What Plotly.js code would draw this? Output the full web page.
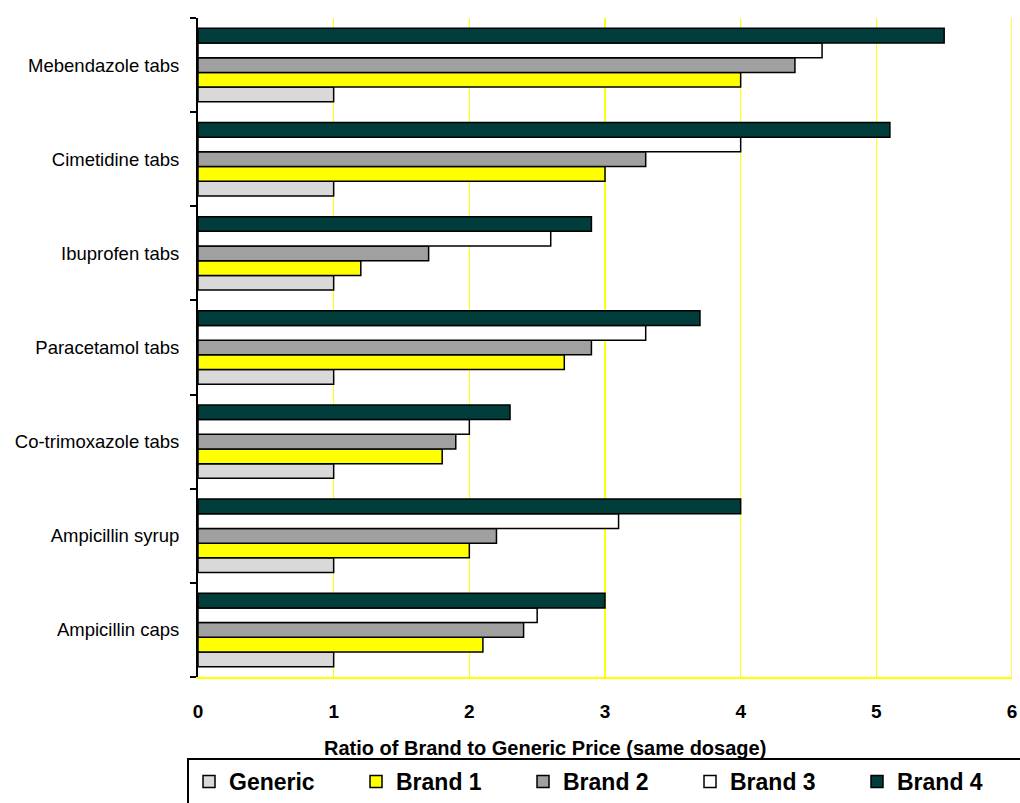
<!DOCTYPE html>
<html>
<head>
<meta charset="utf-8">
<script src="https://cdn.plot.ly/plotly-3.0.1.min.js"></script>
<style>html,body{margin:0;padding:0;background:#fff;}#chart{width:1020px;height:803px;}</style>
</head>
<body>
<div id="chart"></div>
<script>
// Categories listed bottom to top
const categories = ["Ampicillin caps", "Ampicillin syrup", "Co-trimoxazole tabs", "Paracetamol tabs", "Ibuprofen tabs", "Cimetidine tabs", "Mebendazole tabs"];
const seriesNames = ["Generic", "Brand 1", "Brand 2", "Brand 3", "Brand 4"];
const generic = [1, 1, 1, 1, 1, 1, 1];
const brand1 = [2.1, 2.0, 1.8, 2.7, 1.2, 3.0, 4.0];
const brand2 = [2.4, 2.2, 1.9, 2.9, 1.7, 3.3, 4.4];
const brand3 = [2.5, 3.1, 2.0, 3.3, 2.6, 4.0, 4.6];
const brand4 = [3.0, 4.0, 2.3, 3.7, 2.9, 5.1, 5.5];
const xTicks = [0, 1, 2, 3, 4, 5, 6];
const xTitle = "Ratio of Brand to Generic Price (same dosage)";

const colors = ["#d9d9d9", "#ffff00", "#a0a0a0", "#ffffff", "#013d3b"];
const values = [generic, brand1, brand2, brand3, brand4];

const traces = values.map((v, i) => ({
  type: "bar",
  orientation: "h",
  name: seriesNames[i],
  y: categories,
  x: v,
  marker: {color: colors[i], line: {color: "#000", width: 1.5}},
  hoverinfo: "x+name"
}));

const FONT = "Liberation Sans, Arial, sans-serif";
const layout = {
  width: 1020, height: 803,
  margin: {l: 198, r: 8, t: 18, b: 126, autoexpand: false},
  paper_bgcolor: "#fff", plot_bgcolor: "#fff",
  font: {family: FONT, color: "#000"},
  barmode: "group",
  bargap: 0.22,
  bargroupgap: 0,
  showlegend: true,
  legend: {
    orientation: "h",
    x: -0.0135, xanchor: "left",
    y: -0.123, yanchor: "top",
    bordercolor: "#000", borderwidth: 2,
    entrywidth: 122, entrywidthmode: "pixels",
    itemwidth: 30,
    font: {size: 23, family: FONT, weight: "bold"},
    traceorder: "normal"
  },
  xaxis: {
    range: [0, 6],
    tickvals: xTicks,
    ticktext: xTicks.map(String),
    showgrid: true, gridcolor: "#ffff00", gridwidth: 1.5,
    zeroline: false,
    showline: true, linecolor: "#ffff00", linewidth: 1.5,
    ticks: "", ticklabelstandoff: 17,
    tickfont: {size: 19, family: FONT, weight: "bold"},
    fixedrange: true
  },
  yaxis: {
    type: "category",
    categoryorder: "array", categoryarray: categories,
    showline: true, linecolor: "#000", linewidth: 2,
    ticks: "outside", tickson: "boundaries", ticklen: 6, tickwidth: 2, tickcolor: "#000",
    showgrid: false, zeroline: false,
    ticklabelstandoff: 13,
    tickfont: {size: 18.5, family: FONT},
    fixedrange: true
  },
  shapes: [
    {type: "line", xref: "x", yref: "paper", x0: 6, x1: 6, y0: 0, y1: 1, line: {color: "#ffff00", width: 1.5}}
  ],
  annotations: [
    {text: xTitle, xref: "paper", yref: "paper", x: 0.426, y: -0.108, xanchor: "center", yanchor: "middle",
     showarrow: false, font: {size: 20, family: FONT, weight: "bold"}}
  ]
};

Plotly.newPlot("chart", traces, layout, {displayModeBar: false, staticPlot: true});
</script>
</body>
</html>
